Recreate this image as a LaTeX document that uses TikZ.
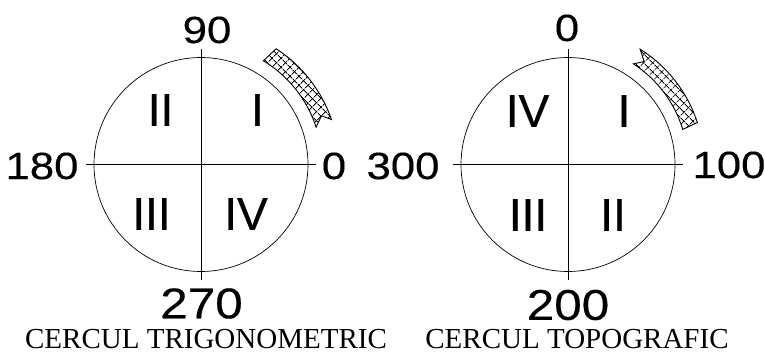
\documentclass[tikz,border=0pt]{standalone}
\usepackage{fontspec}
\setmainfont{Liberation Serif}
\newfontfamily\numfont[FakeStretch=1.15,FakeBold=0.3]{Liberation Sans}
\newfontfamily\romfont[FakeBold=0.6]{Liberation Sans}
\usetikzlibrary{patterns.meta}

\tikzset{
  ring/.style={circle,draw,line width=0.7pt,minimum size=214pt,inner sep=0pt},
  axis/.style={line width=0.7pt},
  deg/.style={inner sep=0pt,font=\numfont\fontsize{38}{38}\selectfont},
  degbig/.style={inner sep=0pt,font=\numfont\fontsize{43}{43}\selectfont},
  quad/.style={inner sep=0pt,font=\romfont\fontsize{46}{46}\selectfont},
  caption/.style={inner sep=0pt,font=\fontsize{29}{29}\selectfont},
  hatchband/.style={line width=0.9pt,
    pattern={Lines[angle=45,distance=6.5pt,line width=0.8pt]},
    postaction={pattern={Lines[angle=-45,distance=6.5pt,line width=0.8pt]}}},
}

\begin{document}
\begin{tikzpicture}[x=1pt,y=1pt]
  \useasboundingbox (0,0) rectangle (765,354);

  % the two circles
  \node[ring] (trig) at (201,189.5) {};
  \node[ring] (topo) at (568,189.5) {};

  % axes
  \foreach \c in {trig,topo}{
    \draw[axis] ([xshift=-8pt]\c.west) -- ([xshift=8pt]\c.east);
    \draw[axis] ([yshift=8pt]\c.north) -- ([yshift=-8pt]\c.south);}

  % trigonometric circle labels
  \node[deg] (t90) at (207,324) {90};
  \node[deg] (t180) at (42,188) {180};
  \node[deg] (t0) at (334,188) {0};
  \node[degbig] (t270) at (201.5,50.5) {270};
  \node[quad] (tq1) at (257.5,244) {I};
  \node[quad] (tq2) at (160.5,244) {II};
  \node[quad] (tq3) at (151.5,140) {III};
  \node[quad] (tq4) at (246,140) {IV};

  % topographic circle labels
  \node[deg] (g0) at (567,326) {0};
  \node[deg] (g300) at (403,188) {300};
  \node[deg] (g100) at (729,189) {100};
  \node[degbig] (g200) at (568,49) {200};
  \node[quad] (gq1) at (624,243) {I};
  \node[quad] (gq2) at (613,139) {II};
  \node[quad] (gq3) at (528,139) {III};
  \node[quad] (gq4) at (527.5,243) {IV};

  % sense of the angles
  \begin{scope}[shift={(trig.center)}]
    \draw[hatchband] (19:138) arc[start angle=19,end angle=57,radius=138]
      -- (59:121) arc[start angle=59,end angle=18,radius=121]
      -- (22:130) -- cycle;
  \end{scope}
  \begin{scope}[shift={(topo.center)}]
    \draw[hatchband] (58:136) arc[start angle=58,end angle=18,radius=136]
      -- (17:120) arc[start angle=17,end angle=57,radius=120]
      -- (53.5:128) -- cycle;
  \end{scope}

  % captions
  \node[caption] (ctrig) at (206,15) {CERCUL TRIGONOMETRIC};
  \node[caption] (ctopo) at (577,15) {CERCUL TOPOGRAFIC};
\end{tikzpicture}
\end{document}
